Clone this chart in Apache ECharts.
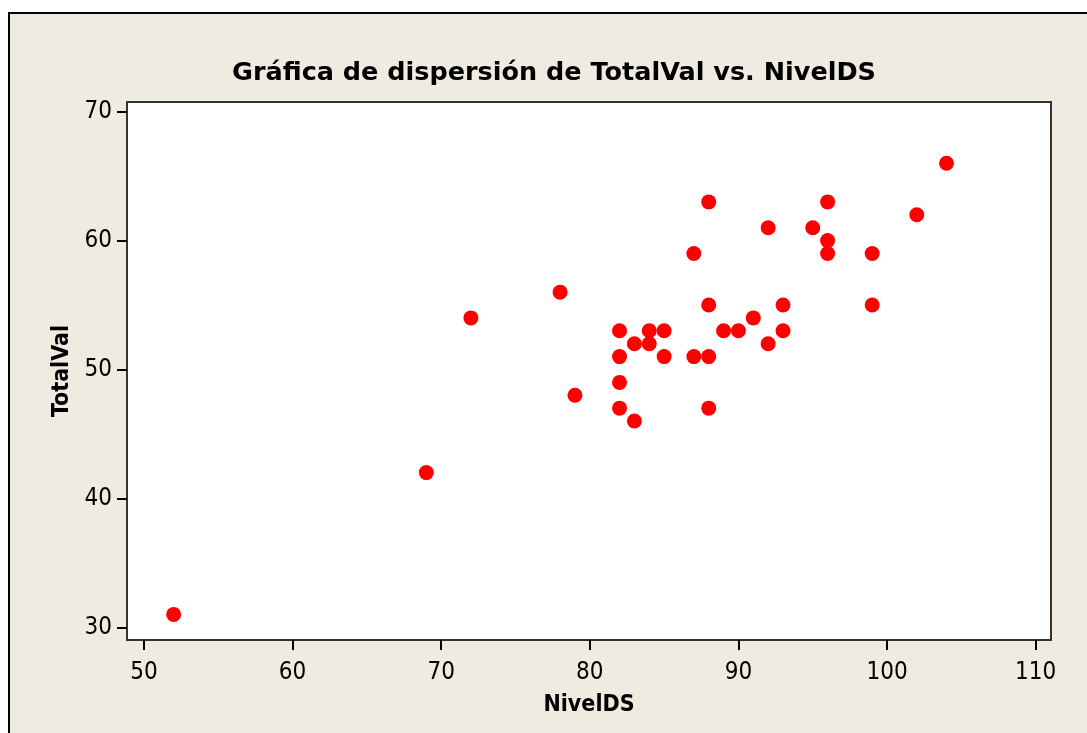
<html>
  <head>
    <meta charset="utf-8">
    <title>Dispersión</title>
    <script src="https://cdn.jsdelivr.net/npm/echarts@6/dist/echarts.min.js"></script>
    <style>
      body {
        margin: 0;
        background: #ffffff;
      }
      .frame {
        position: absolute;
        left: 8px;
        top: 12px;
        width: 1100px;
        height: 800px;
        border-left: 2px solid #000;
        border-top: 2px solid #000;
        background: #efebe1;
      }
      #scatterChart {
        position: absolute;
        left: 0;
        top: 0;
        width: 1087px;
        height: 733px;
      }
    </style>
  </head>

  <body>
    <div class="frame"></div>
    <div id="scatterChart"></div>

    <script>
      // datos
      const nivelDS = [52, 69, 72, 78, 79, 82, 82, 82, 82, 83, 83, 84, 84, 85, 85, 87, 87, 88, 88, 88, 88, 89, 90, 91, 92, 92, 93, 93, 95, 96, 96, 96, 99, 99, 102, 104]
      const totalVal = [31, 42, 54, 56, 48, 53, 51, 49, 47, 52, 46, 53, 52, 53, 51, 59, 51, 63, 55, 51, 47, 53, 53, 54, 61, 52, 55, 53, 61, 63, 60, 59, 59, 55, 62, 66]
      const xTicks = [50, 60, 70, 80, 90, 100, 110]
      const yTicks = [30, 40, 50, 60, 70]

      const points = nivelDS.map((x, i) => [x, totalVal[i]])

      const font = "'DejaVu Sans Condensed', 'DejaVu Sans', sans-serif"
      const titleFont = "'DejaVu Sans', sans-serif"

      let myChart = echarts.init(document.getElementById('scatterChart'))

      myChart.setOption({
        animation: false,
        title: {
          text: 'Gráfica de dispersión de TotalVal vs. NivelDS',
          left: 549,
          textAlign: 'center',
          top: 55,
          textStyle: {
            fontFamily: titleFont,
            fontWeight: 'bold',
            fontSize: 25.5,
            color: '#000'
          }
        },
        grid: {
          left: 127,
          top: 102,
          right: 36,
          bottom: 93,
          outerBoundsMode: 'none',
          containLabel: false,
          show: true,
          backgroundColor: '#ffffff',
          borderColor: '#333333',
          borderWidth: 2
        },
        xAxis: {
          type: 'value',
          min: 48.86,
          max: 111.03,
          name: 'NivelDS',
          nameLocation: 'middle',
          nameGap: 54,
          nameTextStyle: {
            fontFamily: font,
            fontWeight: 'bold',
            fontSize: 23,
            color: '#000'
          },
          axisLine: { show: false },
          splitLine: { show: false },
          axisTick: {
            customValues: xTicks,
            length: 10,
            lineStyle: { color: '#000', width: 2 }
          },
          axisLabel: {
            customValues: xTicks,
            margin: 21,
            fontFamily: font,
            fontSize: 24,
            color: '#000'
          }
        },
        yAxis: {
          type: 'value',
          min: 29.015,
          max: 70.75,
          name: 'TotalVal',
          nameLocation: 'middle',
          nameGap: 40,
          nameTextStyle: {
            fontFamily: font,
            fontWeight: 'bold',
            fontSize: 23,
            color: '#000'
          },
          axisLine: { show: false },
          splitLine: { show: false },
          axisTick: {
            customValues: yTicks,
            length: 10,
            lineStyle: { color: '#000', width: 2 }
          },
          axisLabel: {
            customValues: yTicks,
            margin: 15,
            fontFamily: font,
            fontSize: 24,
            color: '#000'
          }
        },
        series: [
          {
            type: 'scatter',
            data: points,
            symbol: 'circle',
            symbolSize: 15,
            itemStyle: { color: '#ff0000', opacity: 1 }
          }
        ]
      })
    </script>
  </body>
</html>
